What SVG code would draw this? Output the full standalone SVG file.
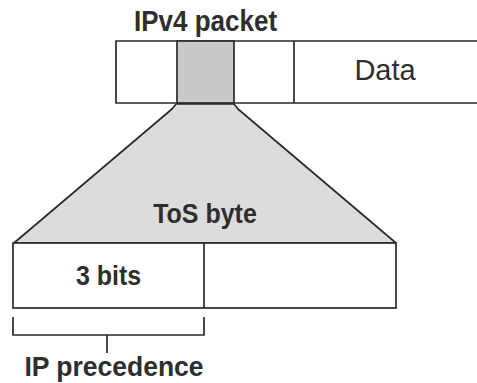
<svg xmlns="http://www.w3.org/2000/svg" width="477" height="383" viewBox="0 0 477 383">
<style>
.ln{stroke:#2b2b2b;stroke-width:1.7;fill:none}
.box{stroke:#2b2b2b;stroke-width:1.7;fill:#ffffff}
.t{font-family:"Liberation Sans",Arial,sans-serif;fill:#2e2e2e;text-anchor:middle}
.b{font-weight:bold}
</style>
<rect width="477" height="383" fill="#ffffff"/>
<g id="tos-expansion">
<path d="M176,104 L172,109 L14,243 L396,243 L238,109 L234,104 Z" fill="#dcdcdc" stroke="#2b2b2b" stroke-width="1.7" stroke-linejoin="round"/>
<text class="t b" transform="translate(205,223) scale(1,1.08)" font-size="25">ToS byte</text>
</g>
<g id="ipv4-packet">
<text class="t b" transform="translate(205.5,31) scale(1,1.1)" font-size="26">IPv4 packet</text>
<path class="ln" d="M478,41 L116,41 L116,103 L478,103"/>
<rect x="177" y="41" width="57" height="62" fill="#c9c9c9" stroke="#2b2b2b" stroke-width="1.7"/>
<line class="ln" x1="294" y1="41" x2="294" y2="103"/>
<text class="t" transform="translate(385,80) scale(1,1.02)" font-size="29">Data</text>
</g>
<g id="tos-byte">
<rect class="box" x="13" y="243" width="383" height="65"/>
<line class="ln" x1="204" y1="243" x2="204" y2="308"/>
<text class="t b" transform="translate(108.5,285) scale(1,1.08)" font-size="25">3 bits</text>
</g>
<g id="connectors">
<path class="ln" d="M13,317 L13,335 L204,335 L204,317 M107,335 L107,353"/>
</g>
<g id="ip-precedence">
<text class="t b" transform="translate(114,376) scale(1,1.05)" font-size="26.5">IP precedence</text>
</g>
</svg>
